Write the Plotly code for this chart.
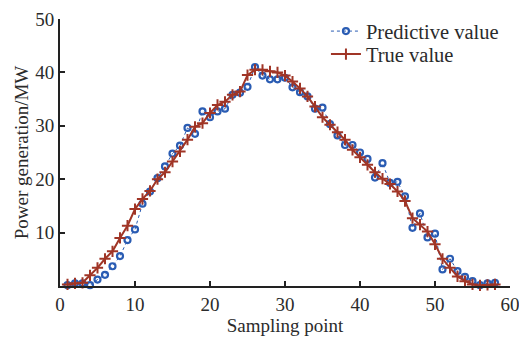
import plotly.graph_objects as go

x_points = list(range(1, 59))
true_value = [0.3, 0.5, 0.6, 2.0, 3.4, 5.1, 6.5, 9.0, 11.3, 14.4,
              16.3, 17.8, 20.0, 21.3, 23.3, 25.2, 27.4, 29.8, 30.5, 32.4,
              33.9, 34.5, 35.8, 36.4, 39.5, 40.5, 40.5, 40.2, 40.0, 39.4,
              38.3, 37.0, 35.5, 33.6, 31.6, 30.2, 28.8, 27.4, 25.5, 24.1,
              22.7, 21.3, 20.1, 19.1, 17.7, 15.9, 12.7, 11.5, 10.2, 7.8,
              5.1, 3.4, 1.8, 0.9, 0.3, 0.1, 0.2, 0.3]
predictive_value = [0.15, 0.5, 0.5, 0.15, 1.2, 2.1, 3.7, 5.6, 8.6, 10.6,
                    15.4, 17.7, 20.2, 22.4, 24.8, 26.3, 29.6, 28.5, 32.7, 31.6,
                    32.7, 33.2, 35.8, 36.2, 37.3, 41.0, 39.4, 38.7, 38.7, 39.0,
                    37.2, 36.3, 35.5, 33.2, 33.4, 30.3, 28.2, 26.4, 26.4, 25.0,
                    23.8, 20.3, 23.0, 19.3, 19.5, 16.8, 10.9, 13.6, 9.1, 9.8,
                    3.1, 5.1, 2.8, 1.7, 0.9, 0.15, 0.5, 0.6]
x_ticks = [0, 10, 20, 30, 40, 50, 60]
y_ticks = [10, 20, 30, 40, 50]

FONT = "Liberation Serif"
TXT = "#2b2b2b"
BLUE = "#2a5cb3"
RED = "#a03526"

fig = go.Figure()
fig.add_trace(go.Scatter(
    x=x_points, y=predictive_value, name="Predictive value",
    mode="lines+markers",
    line=dict(color=BLUE, width=1, dash="dot"),
    marker=dict(symbol="circle-open", size=6, color=BLUE, line=dict(width=2.2, color=BLUE)),
    cliponaxis=False, legend="legend",
))
fig.add_trace(go.Scatter(
    x=x_points, y=true_value, name="True value",
    mode="lines+markers",
    line=dict(color=RED, width=2),
    marker=dict(symbol="cross-thin-open", size=8, color=RED, line=dict(width=2, color=RED)),
    cliponaxis=False, legend="legend2",
))

legend_common = dict(xanchor="left", yanchor="top", bgcolor="rgba(0,0,0,0)",
                     font=dict(family=FONT, size=20.5, color=TXT))

fig.update_layout(
    width=519, height=340,
    margin=dict(l=60, r=9, t=19, b=53.5),
    paper_bgcolor="white", plot_bgcolor="white",
    font=dict(family=FONT, size=19, color=TXT),
    showlegend=True,
    legend=dict(x=0.591, y=1.029, **legend_common),
    legend2=dict(x=0.591, y=0.943, **legend_common),
    xaxis=dict(range=[0, 60], tickvals=x_ticks, showgrid=False, zeroline=False,
               automargin=False, ticklabeloverflow="allow",
               showline=True, linecolor="#222", linewidth=2,
               ticks="inside", ticklen=5, tickwidth=1.5, tickcolor="#222",
               tickfont=dict(family=FONT, size=19, color=TXT),
               title=dict(text="Sampling point", font=dict(family=FONT, size=19, color=TXT), standoff=4)),
    yaxis=dict(range=[0, 50], tickvals=y_ticks, showgrid=False, zeroline=False,
               automargin=False, ticklabeloverflow="allow",
               showline=True, linecolor="#222", linewidth=2,
               ticks="inside", ticklen=5, tickwidth=1.5, tickcolor="#222",
               tickfont=dict(family=FONT, size=19, color=TXT),
               title=dict(text="Power generation/MW", font=dict(family=FONT, size=19, color=TXT), standoff=2)),
)

fig.write_html("out.html", config={"displayModeBar": False},
               post_script="document.body.style.margin='0px';")
